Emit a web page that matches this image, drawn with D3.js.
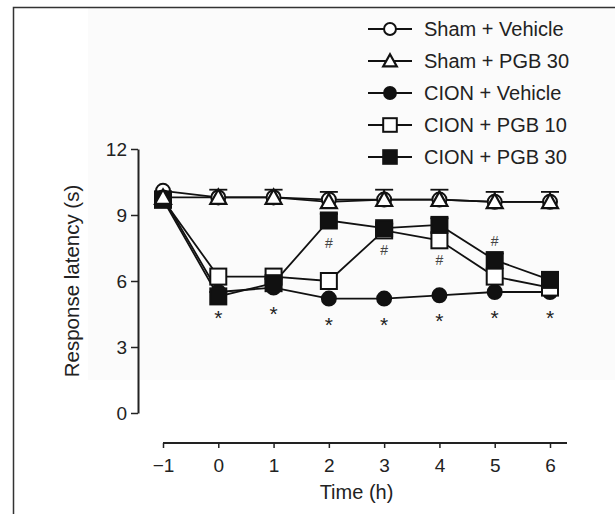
<!DOCTYPE html>
<html>
<head>
<meta charset="utf-8">
<script src="https://cdn.jsdelivr.net/npm/d3@7"></script>
<style>
  html, body { margin: 0; padding: 0; background: #fff; }
  svg text { font-family: "Liberation Sans", Arial, Helvetica, sans-serif; fill: #222; }
</style>
</head>
<body>
<div id="chart"></div>
<script>
// time points (h)
const times = [-1, 0, 1, 2, 3, 4, 5, 6];
const yTicks = [0, 3, 6, 9, 12];

// response latency (s) per group
const shamVehicle = [10.1, 9.8, 9.8, 9.7, 9.7, 9.7, 9.6, 9.6];
const shamPgb30   = [9.8, 9.8, 9.8, 9.6, 9.7, 9.7, 9.6, 9.6];
const cionVehicle = [9.8, 5.5, 5.7, 5.2, 5.2, 5.35, 5.5, 5.5];
const cionPgb10   = [9.7, 6.2, 6.2, 6.0, 8.3, 7.85, 6.2, 5.7];
const cionPgb30   = [9.7, 5.3, 5.9, 8.75, 8.4, 8.55, 6.95, 6.05];

// upper error (SEM) where visible
const shamPgb30Err = [0.2, 0.35, 0.35, 0.45, 0.45, 0.45, 0.45, 0.45];
const cionPgb30Err = [0.2, 0.2, 0.2, 0.3, 0.2, 0.3, 0.3, 0.3];

// significance marks
const starTimes = [0, 1, 2, 3, 4, 5, 6];
const hashMarks = [
    { t: 2, series: 'pgb30', dy: 22 },
    { t: 3, series: 'pgb10', dy: 20 },
    { t: 4, series: 'pgb10', dy: 20 },
    { t: 5, series: 'pgb30', dy: -19 }
];

const legendLabels = ['Sham + Vehicle', 'Sham + PGB 30', 'CION + Vehicle', 'CION + PGB 10', 'CION + PGB 30'];

const width = 615, height = 514;

const svg = d3.select('#chart').append('svg')
    .attr('width', width)
    .attr('height', height);

// faint panel + frame
svg.append('rect').attr('x', 88).attr('y', 7).attr('width', width - 88).attr('height', 373).attr('fill', '#fbfbfb');
svg.append('path').attr('d', `M13.5,${height}V7.5H${width}`).attr('fill', 'none').attr('stroke', '#333').attr('stroke-width', 1.5);

const x = d3.scaleLinear().domain([-1, 6]).range([163, 550]);
const y = d3.scaleLinear().domain([0, 12]).range([413, 149]);

// axes
const xAxis = svg.append('g')
    .attr('transform', 'translate(0,443)')
    .call(d3.axisBottom(x).tickValues(times).tickSize(5).tickSizeOuter(0).tickPadding(11)
        .tickFormat(d => d < 0 ? '\u2212' + Math.abs(d) : d));
xAxis.select('.domain').attr('d', `M${x(-1)},0H567`);

const yAxis = svg.append('g')
    .attr('transform', 'translate(138,0)')
    .call(d3.axisLeft(y).tickValues(yTicks).tickSize(7).tickSizeOuter(0).tickPadding(4));

[xAxis, yAxis].forEach(g => {
    g.attr('font-size', null).attr('font-family', null);
    g.select('.domain').attr('stroke', '#222').attr('stroke-width', 2);
    g.selectAll('.tick line').attr('stroke', '#222').attr('stroke-width', 1.5);
    g.selectAll('.tick text').style('font-size', '19px').style('fill', '#222');
});

svg.append('text')
    .attr('x', x(2.5)).attr('y', 499)
    .attr('text-anchor', 'middle').style('font-size', '20px')
    .text('Time (h)');

svg.append('text')
    .attr('transform', `translate(79,${y(6)}) rotate(-90)`)
    .attr('text-anchor', 'middle').style('font-size', '20.5px')
    .text('Response latency (s)');

// marker drawing
function drawMarker(g, shape, cx, cy, scale = 1) {
    const s = 8 * scale;
    if (shape === 'circle' || shape === 'dot') {
        g.append('circle').attr('cx', cx).attr('cy', cy).attr('r', 7 * scale)
            .attr('fill', shape === 'dot' ? '#111' : '#fff')
            .attr('stroke', '#111').attr('stroke-width', 2);
    } else if (shape === 'square' || shape === 'fsquare') {
        g.append('rect').attr('x', cx - s).attr('y', cy - s).attr('width', 2 * s).attr('height', 2 * s)
            .attr('fill', shape === 'fsquare' ? '#111' : '#fff')
            .attr('stroke', '#111').attr('stroke-width', 2);
    } else if (shape === 'triangle') {
        g.append('path')
            .attr('d', `M${cx},${cy - s}L${cx + s},${cy + s * 0.8}L${cx - s},${cy + s * 0.8}Z`)
            .attr('fill', '#fff').attr('stroke', '#111').attr('stroke-width', 2.2);
    }
}

const series = [
    { key: 'shamVeh', values: shamVehicle, shape: 'circle' },
    { key: 'cionVeh', values: cionVehicle, shape: 'dot' },
    { key: 'pgb10', values: cionPgb10, shape: 'square' },
    { key: 'pgb30', values: cionPgb30, shape: 'fsquare', err: cionPgb30Err },
    { key: 'shamPgb30', values: shamPgb30, shape: 'triangle', err: shamPgb30Err }
];

const line = d3.line().x((d, i) => x(times[i])).y(d => y(d));

// lines first
const lines = svg.append('g');
series.forEach(s => {
    lines.append('path').datum(s.values)
        .attr('d', line).attr('fill', 'none')
        .attr('stroke', '#111').attr('stroke-width', 1.8);
});

// error bars (upper)
const errG = svg.append('g').attr('stroke', '#111').attr('stroke-width', 1.8);
series.filter(s => s.err).forEach(s => {
    s.values.forEach((v, i) => {
        const cx = x(times[i]), top = y(v + s.err[i]);
        errG.append('line').attr('x1', cx).attr('x2', cx).attr('y1', y(v)).attr('y2', top);
        errG.append('line').attr('x1', cx - 9).attr('x2', cx + 9).attr('y1', top).attr('y2', top);
    });
});

// markers
const markG = svg.append('g');
series.forEach(s => {
    s.values.forEach((v, i) => drawMarker(markG, s.shape, x(times[i]), y(v)));
});

// stars under CION + Vehicle
starTimes.forEach(t => {
    const i = times.indexOf(t);
    svg.append('text')
        .attr('x', x(t)).attr('y', y(cionVehicle[i]) + 33)
        .attr('text-anchor', 'middle').style('font-size', '21px')
        .text('*');
});

// hash marks
hashMarks.forEach(h => {
    const i = times.indexOf(h.t);
    const v = h.series === 'pgb30' ? cionPgb30[i] : cionPgb10[i];
    svg.append('text')
        .attr('x', x(h.t)).attr('y', y(v) + h.dy + 5)
        .attr('text-anchor', 'middle').style('font-size', '14px')
        .style('fill', '#444')
        .text('#');
});

// legend
const legendShapes = ['circle', 'triangle', 'dot', 'square', 'fsquare'];
const legend = svg.append('g').attr('transform', 'translate(368,29)');
legendLabels.forEach((label, i) => {
    const row = legend.append('g').attr('transform', `translate(0,${i * 32})`);
    row.append('line').attr('x1', 0).attr('x2', 44).attr('y1', 0).attr('y2', 0)
        .attr('stroke', '#111').attr('stroke-width', 2);
    drawMarker(row, legendShapes[i], 22, 0, 0.85);
    row.append('text').attr('x', 56).attr('y', 7).style('font-size', '20px').text(label);
});
</script>
</body>
</html>
